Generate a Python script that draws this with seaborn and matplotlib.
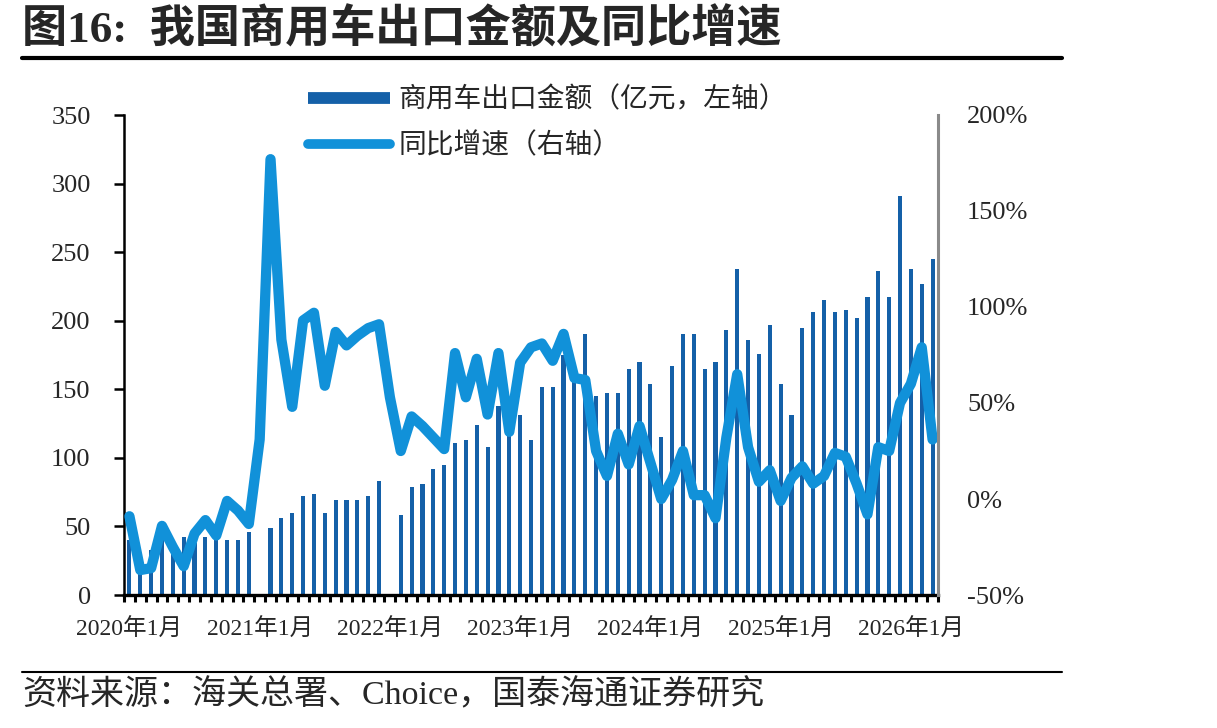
import numpy as np
import pandas as pd
import matplotlib
matplotlib.use("Agg")
import matplotlib.pyplot as plt
import seaborn as sns
from matplotlib.lines import Line2D

# ---------------- data ----------------
months = [f"{y}-{m:02d}" for y in range(2020, 2027) for m in range(1, 13)][:75]

export_value = [  # 商用车出口金额（亿元）
    40, 30, 33, 42, 36, 42, 38, 42, 40, 40, 40, 46,
    np.nan, 49, 56, 60, 72, 74, 60, 69, 69, 69, 72, 83,
    np.nan, 58, 79, 81, 92, 95, 111, 113, 124, 108, 138, 120,
    131, 113, 152, 152, 175, 155, 190, 145, 147, 147, 165, 170,
    154, 115, 167, 190, 190, 165, 170, 193, 238, 186, 176, 197,
    154, 131, 195, 206, 215, 206, 208, 202, 217, 236, 217, 291,
    238, 227, 245,
]

yoy_pct = [  # 同比增速（%）
    -9, -37, -36, -14, -25, -35, -18, -11, -19, -1, -6, -13,
    31, 177, 83, 48, 93, 97, 59, 87, 80, 85, 89, 91,
    53, 25, 43, 38, 32, 26, 76, 53, 73, 44, 76, 35,
    71, 79, 81, 72, 86, 63, 62, 25, 12, 34, 18, 38,
    19, 0, 10, 25, 2, 2, -10, 32, 65, 27, 9, 15,
    -1, 11, 17, 8, 12, 24, 22, 8, -8, 27, 25, 50,
    60, 79, 31,
]

left_ticks = [0, 50, 100, 150, 200, 250, 300, 350]
right_ticks = [-50, 0, 50, 100, 150, 200]

BAR = "#1460A8"
LINE = "#1191D9"

df = pd.DataFrame({"month": months, "value": export_value, "yoy": yoy_pct})
df["pos"] = np.arange(len(df))
bars = df.dropna(subset=["value"])

# ---------------- style ----------------
sns.set_style("ticks")
plt.rcParams["font.family"] = ["Liberation Serif", "Noto Sans CJK SC"]

W, H = 1217, 728
fig = plt.figure(figsize=(W / 100, H / 100), dpi=100)
ax = fig.add_axes([124 / W, 1 - 595 / H, 814 / W, 480 / H])

sns.barplot(data=bars, x="pos", y="value", color=BAR, saturation=1,
            width=0.38, native_scale=True, errorbar=None, linewidth=0, ax=ax)
ax.set_xlim(-0.5, len(df) - 0.5)
ax.set_ylim(0, 350)
ax.set_yticks(left_ticks)
ax.set_yticklabels([str(t) for t in left_ticks])
ax.set_xlabel("")
ax.set_ylabel("")

ax2 = ax.twinx()
sns.lineplot(data=df, x="pos", y="yoy", color=LINE, lw=7.4, ax=ax2,
             solid_capstyle="round", solid_joinstyle="round")
ax2.set_ylim(-50, 200)
ax2.set_yticks(right_ticks)
ax2.set_yticklabels([f"{t}%" for t in right_ticks])
ax2.set_xlabel("")
ax2.set_ylabel("")
ax2.set_xlim(-0.5, len(df) - 0.5)

# x ticks
jan_pos = [i for i, m in enumerate(months) if m.endswith("-01")]
jan_lab = [f"{months[i][:4]}年1月" for i in jan_pos]
ax.set_xticks(jan_pos)
ax.set_xticklabels(jan_lab)
ax.set_xticks(np.arange(-0.5, len(df), 1.0), minor=True)
ax.tick_params(axis="x", which="major", length=0, labelsize=17, pad=17)
ax.tick_params(axis="x", which="minor", length=5, width=2.2, direction="out", color="black")
ax.tick_params(axis="y", length=7, width=1.8, direction="out", labelsize=19, pad=17, color="black")
ax2.tick_params(axis="y", length=0, labelsize=19, pad=21)

for s in ["top", "right"]:
    ax.spines[s].set_visible(False)
ax.spines["left"].set_color("black")
ax.spines["left"].set_linewidth(1.8)
ax.spines["bottom"].set_color("black")
ax.spines["bottom"].set_linewidth(2.4)
for s in ["top", "left", "bottom"]:
    ax2.spines[s].set_visible(False)
ax2.spines["right"].set_color("#8a8a8a")
ax2.spines["right"].set_linewidth(2.2)

# legend
handles = [Line2D([], [], color=BAR, lw=8.5, solid_capstyle="butt"),
           Line2D([], [], color=LINE, lw=7.0, solid_capstyle="round")]
leg_labels = ["商用车出口金额（亿元，左轴）", "同比增速（右轴）"]
fig.legend(handles, leg_labels, loc="upper left",
           bbox_to_anchor=(308 / W, 1 - 87 / H), frameon=False,
           fontsize=20, handlelength=2.95, handletextpad=0.3,
           labelspacing=0.7, borderpad=0, borderaxespad=0)

# title, rules, source
fig.text(22 / W, 1 - 30 / H, "图16:  我国商用车出口金额及同比增速",
         fontsize=32.5, fontweight="bold", va="center", ha="left")
fig.add_artist(Line2D([22 / W, 1062 / W], [1 - 58 / H] * 2, color="black", lw=3))
fig.add_artist(Line2D([22 / W, 1062 / W], [1 - 672 / H] * 2, color="black", lw=1.5))
fig.text(22 / W, 1 - 695 / H, "资料来源：海关总署、Choice，国泰海通证券研究",
         fontsize=24.5, va="center", ha="left")

fig.savefig("out.png", dpi=100)
